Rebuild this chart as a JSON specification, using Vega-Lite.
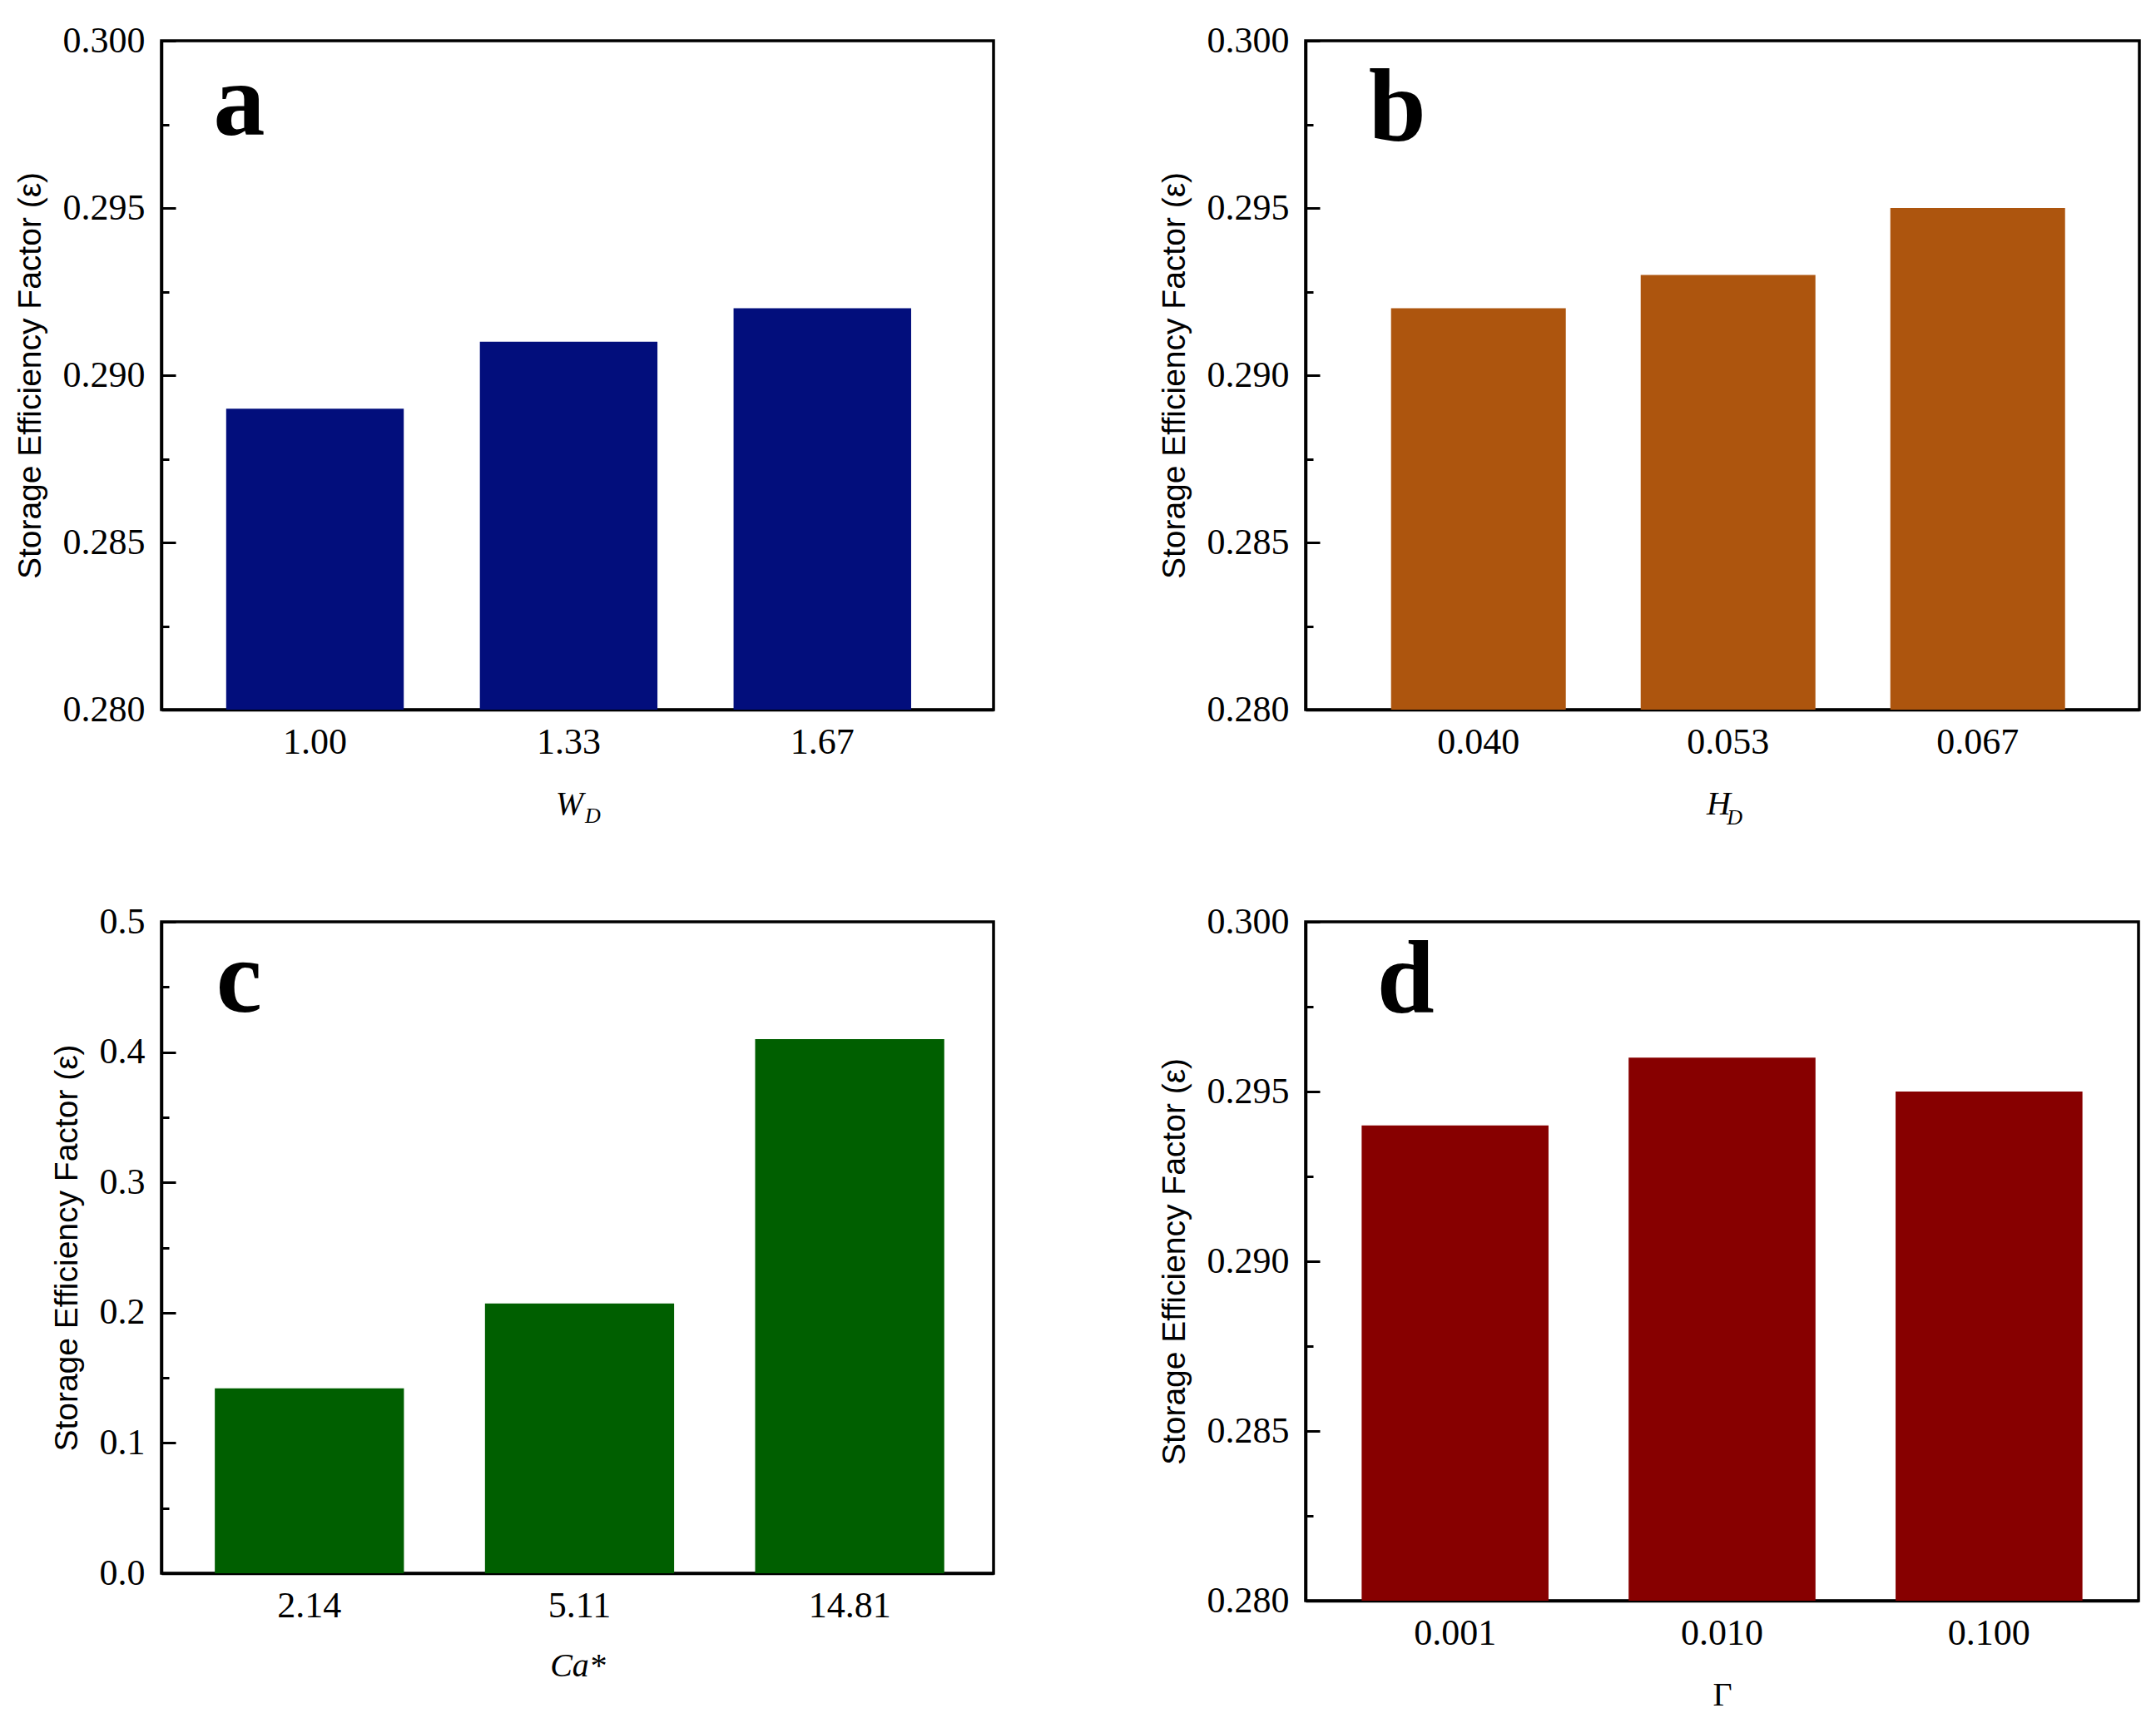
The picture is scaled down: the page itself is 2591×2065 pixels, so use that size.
{
  "$schema": "https://vega.github.io/schema/vega-lite/v6.json",
  "background": "white",
  "padding": {"left": 15, "top": 25, "right": 10, "bottom": 5},
  "bounds": "flush",
  "columns": 2,
  "spacing": {"row": 255, "column": 375},
  "datasets": {
    "a": [{"x": "1.00", "value": 0.289}, {"x": "1.33", "value": 0.291}, {"x": "1.67", "value": 0.292}],
    "b": [{"x": "0.040", "value": 0.292}, {"x": "0.053", "value": 0.293}, {"x": "0.067", "value": 0.295}],
    "c": [{"x": "2.14", "value": 0.142}, {"x": "5.11", "value": 0.207}, {"x": "14.81", "value": 0.41}],
    "d": [{"x": "0.001", "value": 0.294}, {"x": "0.010", "value": 0.296}, {"x": "0.100", "value": 0.295}]
  },
  "concat": [
    {
      "width": 1000,
      "height": 804,
      "layer": [
        {
          "data": {"name": "a"},
          "mark": {"type": "bar", "color": "#020e7c", "clip": true},
          "encoding": {
            "x": {"field": "x", "type": "nominal", "sort": null,
              "scale": {"domain": ["1.00", "1.33", "1.67"], "paddingInner": 0.3, "paddingOuter": 0.29, "align": 0.44},
              "axis": {"title": "W", "titleX": 490}},
            "y": {"field": "value", "type": "quantitative",
              "scale": {"domain": [0.28, 0.3], "nice": false, "zero": false},
              "axis": {"title": "Storage Efficiency Factor (ε)",
                "values": [0.28, 0.2825, 0.285, 0.2875, 0.29, 0.2925, 0.295, 0.2975, 0.3],
                "labelExpr": "round(datum.value*400)%2==1 ? '' : format(datum.value, '.3f')",
                "tickSize": {"condition": {"test": "round(datum.value*400)%2==1", "value": -9}, "value": -17}}}
          }
        },
        {
          "data": {"values": [{"t": "a"}]},
          "mark": {"type": "text", "font": "Liberation Serif", "fontWeight": "bold", "fontSize": 124, "align": "left", "baseline": "alphabetic", "dx": -122, "dy": 113, "color": "black"},
          "encoding": {"x": {"datum": "1.00"}, "y": {"datum": 0.3}, "text": {"field": "t"}}
        },
        {
          "data": {"values": [{"t": "D"}]},
          "mark": {"type": "text", "font": "Liberation Serif", "fontStyle": "italic", "fontSize": 26, "align": "center", "baseline": "middle", "dx": 29, "dy": 128, "color": "black"},
          "encoding": {"x": {"datum": "1.33"}, "y": {"datum": 0.28}, "text": {"field": "t"}}
        }
      ]
    },
    {
      "width": 1002,
      "height": 804,
      "layer": [
        {
          "data": {"name": "b"},
          "mark": {"type": "bar", "color": "#ad550e", "clip": true},
          "encoding": {
            "x": {"field": "x", "type": "nominal", "sort": null,
              "scale": {"domain": ["0.040", "0.053", "0.067"], "paddingInner": 0.3, "paddingOuter": 0.32, "align": 0.535},
              "axis": {"title": "H", "titleX": 496}},
            "y": {"field": "value", "type": "quantitative",
              "scale": {"domain": [0.28, 0.3], "nice": false, "zero": false},
              "axis": {"title": "Storage Efficiency Factor (ε)",
                "values": [0.28, 0.2825, 0.285, 0.2875, 0.29, 0.2925, 0.295, 0.2975, 0.3],
                "labelExpr": "round(datum.value*400)%2==1 ? '' : format(datum.value, '.3f')",
                "tickSize": {"condition": {"test": "round(datum.value*400)%2==1", "value": -9}, "value": -17}}}
          }
        },
        {
          "data": {"values": [{"t": "b"}]},
          "mark": {"type": "text", "font": "Liberation Serif", "fontWeight": "bold", "fontSize": 124, "align": "left", "baseline": "alphabetic", "dx": -132, "dy": 120, "color": "black"},
          "encoding": {"x": {"datum": "0.040"}, "y": {"datum": 0.3}, "text": {"field": "t"}}
        },
        {
          "data": {"values": [{"t": "D"}]},
          "mark": {"type": "text", "font": "Liberation Serif", "fontStyle": "italic", "fontSize": 26, "align": "center", "baseline": "middle", "dx": 8, "dy": 130, "color": "black"},
          "encoding": {"x": {"datum": "0.053"}, "y": {"datum": 0.28}, "text": {"field": "t"}}
        }
      ]
    },
    {
      "width": 1000,
      "height": 783,
      "layer": [
        {
          "data": {"name": "c"},
          "mark": {"type": "bar", "color": "#005f00", "clip": true},
          "encoding": {
            "x": {"field": "x", "type": "nominal", "sort": null,
              "scale": {"domain": ["2.14", "5.11", "14.81"], "paddingInner": 0.3, "paddingOuter": 0.19, "align": 0.52},
              "axis": {"title": "Ca*", "titlePadding": 30}},
            "y": {"field": "value", "type": "quantitative",
              "scale": {"domain": [0, 0.5], "nice": false, "zero": false},
              "axis": {"title": "Storage Efficiency Factor (ε)",
                "values": [0, 0.05, 0.1, 0.15, 0.2, 0.25, 0.3, 0.35, 0.4, 0.45, 0.5],
                "labelExpr": "round(datum.value*20)%2==1 ? '' : format(datum.value, '.1f')",
                "tickSize": {"condition": {"test": "round(datum.value*20)%2==1", "value": -9}, "value": -17}}}
          }
        },
        {
          "data": {"values": [{"t": "c"}]},
          "mark": {"type": "text", "font": "Liberation Serif", "fontWeight": "bold", "fontSize": 124, "align": "left", "baseline": "alphabetic", "dx": -112, "dy": 108, "color": "black"},
          "encoding": {"x": {"datum": "2.14"}, "y": {"datum": 0.5}, "text": {"field": "t"}}
        }
      ]
    },
    {
      "width": 1001,
      "height": 816,
      "layer": [
        {
          "data": {"name": "d"},
          "mark": {"type": "bar", "color": "#870000", "clip": true},
          "encoding": {
            "x": {"field": "x", "type": "nominal", "sort": null,
              "scale": {"domain": ["0.001", "0.010", "0.100"], "paddingInner": 0.3, "paddingOuter": 0.21, "align": 0.5},
              "axis": {"title": "Γ", "titleFontStyle": "normal"}},
            "y": {"field": "value", "type": "quantitative",
              "scale": {"domain": [0.28, 0.3], "nice": false, "zero": false},
              "axis": {"title": "Storage Efficiency Factor (ε)",
                "values": [0.28, 0.2825, 0.285, 0.2875, 0.29, 0.2925, 0.295, 0.2975, 0.3],
                "labelExpr": "round(datum.value*400)%2==1 ? '' : format(datum.value, '.3f')",
                "tickSize": {"condition": {"test": "round(datum.value*400)%2==1", "value": -9}, "value": -17}}}
          }
        },
        {
          "data": {"values": [{"t": "d"}]},
          "mark": {"type": "text", "font": "Liberation Serif", "fontWeight": "bold", "fontSize": 124, "align": "left", "baseline": "alphabetic", "dx": -94, "dy": 109, "color": "black"},
          "encoding": {"x": {"datum": "0.001"}, "y": {"datum": 0.3}, "text": {"field": "t"}}
        }
      ]
    }
  ],
  "config": {
    "font": "Liberation Serif",
    "view": {"stroke": "black", "strokeWidth": 3.5},
    "axis": {
      "grid": false,
      "domainColor": "black",
      "domainWidth": 3.5,
      "tickColor": "black",
      "tickWidth": 3,
      "labelFont": "Liberation Serif",
      "labelFontSize": 44,
      "labelColor": "black",
      "labelOverlap": false,
      "titleColor": "black",
      "titleFontWeight": "normal"
    },
    "axisX": {
      "labelAngle": 0,
      "labelPadding": 34,
      "tickSize": -17,
      "titleFont": "Liberation Serif",
      "titleFontStyle": "italic",
      "titleFontSize": 40,
      "titlePadding": 32
    },
    "axisY": {
      "labelPadding": 37,
      "titleFont": "Liberation Sans",
      "titleFontSize": 39,
      "titlePadding": 19
    }
  }
}
